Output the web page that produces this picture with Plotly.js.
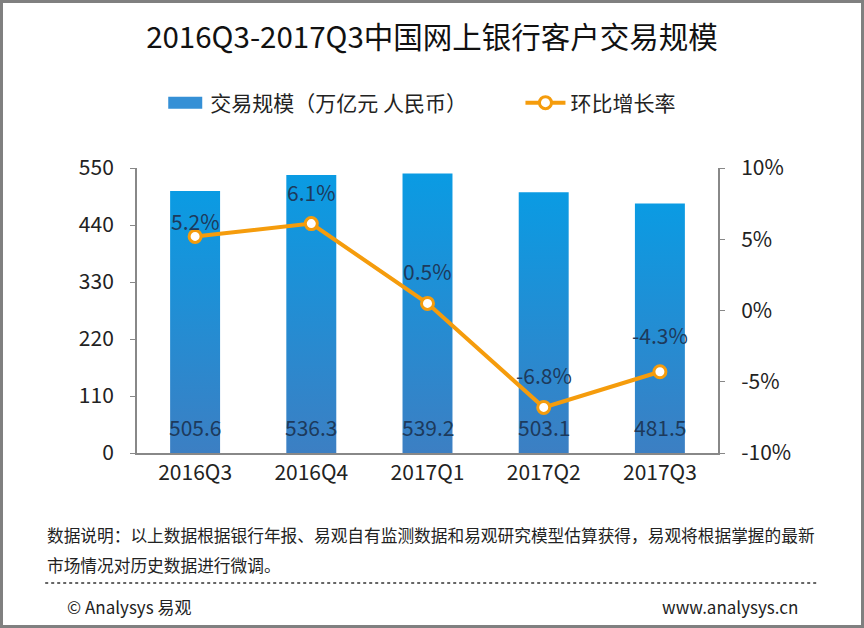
<!DOCTYPE html>
<html>
<head>
<meta charset="utf-8">
<script src="https://cdn.plot.ly/plotly-3.0.1.min.js"></script>
<style>
  body { margin: 0; background: #fff; }
  #chart { width: 858px; height: 622px; border: 3px solid #808080; }
</style>
</head>
<body>
<div id="chart"></div>
<script>
// 2016Q3-2017Q3 online banking transaction scale

var quarters = ['2016Q3', '2016Q4', '2017Q1', '2017Q2', '2017Q3'];
var volume = [505.6, 536.3, 539.2, 503.1, 481.5];
var growth = [5.2, 6.1, 0.5, -6.8, -4.3];

var leftTicks = [0, 110, 220, 330, 440, 550];
var rightTicks = [-10, -5, 0, 5, 10];
var rightLabels = ['-10%', '-5%', '0%', '5%', '10%'];

// how far above each marker its % label sits (px)
var growthLabelLift = [15, 32, 32, 32, 37];

var fontFamily = '"Noto Sans CJK SC", "Noto Sans", sans-serif';
var labelColor = '#1d3a5c';

var bars = {
  x: quarters,
  y: volume,
  type: 'bar',
  name: '交易规模（万亿元 人民币）',
  legend: 'legend',
  hoverinfo: 'none',
  marker: { color: '#2a8ad6' }
};

var line = {
  x: quarters,
  y: growth,
  yaxis: 'y2',
  type: 'scatter',
  mode: 'lines+markers',
  name: '环比增长率',
  legend: 'legend2',
  hoverinfo: 'none',
  line: { color: '#f59c0c', width: 4 },
  marker: { size: 12, color: '#ffffff', line: { color: '#f59c0c', width: 3 } }
};

var data = [bars, line];

// value labels near the bottom of each bar
var barLabels = quarters.map(function (q, i) {
  return {
    x: q, y: 0, xref: 'x', yref: 'y',
    text: volume[i].toFixed(1),
    showarrow: false, yanchor: 'middle', yshift: 26,
    font: { size: 21, color: labelColor }
  };
});

// % labels above the line markers
var lineLabels = quarters.map(function (q, i) {
  return {
    x: q, y: growth[i], xref: 'x', yref: 'y2',
    text: growth[i].toFixed(1) + '%',
    showarrow: false, yanchor: 'middle', yshift: growthLabelLift[i],
    font: { size: 21, color: labelColor }
  };
});

var footer = [
  {
    text: '数据说明：以上数据根据银行年报、易观自有监测数据和易观研究模型估算获得，易观将根据掌握的最新',
    xref: 'paper', yref: 'paper', x: -0.158, y: -0.288,
    xanchor: 'left', yanchor: 'middle', showarrow: false,
    font: { size: 16.7, color: '#222222' }
  },
  {
    text: '市场情况对历史数据进行微调。',
    xref: 'paper', yref: 'paper', x: -0.158, y: -0.393,
    xanchor: 'left', yanchor: 'middle', showarrow: false,
    font: { size: 16.7, color: '#222222' }
  },
  {
    text: '© Analysys 易观',
    xref: 'paper', yref: 'paper', x: -0.124, y: -0.537,
    xanchor: 'left', yanchor: 'middle', showarrow: false,
    font: { size: 17, color: '#222222' }
  },
  {
    text: 'www.analysys.cn',
    xref: 'paper', yref: 'paper', x: 1.141, y: -0.537,
    xanchor: 'right', yanchor: 'middle', showarrow: false,
    font: { size: 17, color: '#222222' }
  }
];

var legendStyle = {
  orientation: 'h',
  xanchor: 'left',
  y: 1.228,
  yanchor: 'middle',
  font: { size: 21, color: '#222222' },
  itemwidth: 40
};

var layout = {
  width: 858,
  height: 622,
  font: { family: fontFamily, size: 21, color: '#222222' },
  paper_bgcolor: '#ffffff',
  plot_bgcolor: '#ffffff',
  margin: { l: 134, r: 143, t: 165, b: 172 },
  bargap: 0.57,
  title: {
    text: '2016Q3-2017Q3中国网上银行客户交易规模',
    font: { size: 29.5, color: '#111111', family: fontFamily },
    x: 0.5,
    xanchor: 'center',
    y: 0.944,
    yanchor: 'middle'
  },
  showlegend: true,
  legend: Object.assign({}, legendStyle, { x: 0.040 }),
  legend2: Object.assign({}, legendStyle, { x: 0.660 }),
  xaxis: {
    showline: true,
    linecolor: '#888888',
    linewidth: 2,
    ticks: '',
    tickfont: { size: 21, color: '#222222' },
    fixedrange: true
  },
  yaxis: {
    range: [0, 550],
    tickvals: leftTicks,
    showgrid: false,
    zeroline: false,
    showline: true,
    linecolor: '#888888',
    linewidth: 2,
    ticks: 'outside',
    ticklen: 5,
    tickcolor: '#888888',
    ticklabelstandoff: 12,
    tickfont: { size: 21, color: '#222222' },
    fixedrange: true
  },
  yaxis2: {
    overlaying: 'y',
    side: 'right',
    range: [-10, 10],
    tickvals: rightTicks,
    ticktext: rightLabels,
    showgrid: false,
    zeroline: false,
    showline: true,
    linecolor: '#888888',
    linewidth: 2,
    ticks: 'outside',
    ticklen: 5,
    tickcolor: '#888888',
    ticklabelstandoff: 12,
    tickfont: { size: 21, color: '#222222' },
    fixedrange: true
  },
  shapes: [
    // dotted separator above footer
    {
      type: 'line', xref: 'paper', yref: 'paper',
      x0: -0.158, x1: 1.170, y0: -0.456, y1: -0.456,
      line: { color: '#666666', width: 2, dash: 'dot' }
    }
  ],
  annotations: barLabels.concat(lineLabels, footer)
};

function restyleBars(gd) {
  var svg = gd.querySelector('.main-svg');
  var ns = 'http://www.w3.org/2000/svg';
  if (!document.getElementById('barGrad')) {
    var defs = svg.querySelector('defs') || svg.insertBefore(document.createElementNS(ns, 'defs'), svg.firstChild);
    var grad = document.createElementNS(ns, 'linearGradient');
    grad.setAttribute('id', 'barGrad');
    grad.setAttribute('x1', '0'); grad.setAttribute('y1', '0');
    grad.setAttribute('x2', '0'); grad.setAttribute('y2', '1');
    [['0', '#0a9be3'], ['1', '#3c7fc3']].forEach(function (s) {
      var stop = document.createElementNS(ns, 'stop');
      stop.setAttribute('offset', s[0]);
      stop.setAttribute('stop-color', s[1]);
      grad.appendChild(stop);
    });
    defs.appendChild(grad);
  }
  // vertical gradient on the bars, like the original
  gd.querySelectorAll('.bars .point path').forEach(function (p) {
    p.style.fill = 'url(#barGrad)';
  });
  // wide flat swatch for the bar legend entry
  gd.querySelectorAll('.legendpoints path').forEach(function (p) {
    var d = p.getAttribute('d') || '';
    if (d.indexOf('H-6') !== -1 || p.classList.contains('legendbar')) {
      p.setAttribute('d', 'M17,6H-17V-6H17Z');
      p.style.fill = '#3590d6';
    }
  });
}

Plotly.newPlot('chart', data, layout, { staticPlot: true }).then(function (gd) {
  restyleBars(gd);
  setTimeout(function () { restyleBars(gd); }, 50);
});
</script>
</body>
</html>
